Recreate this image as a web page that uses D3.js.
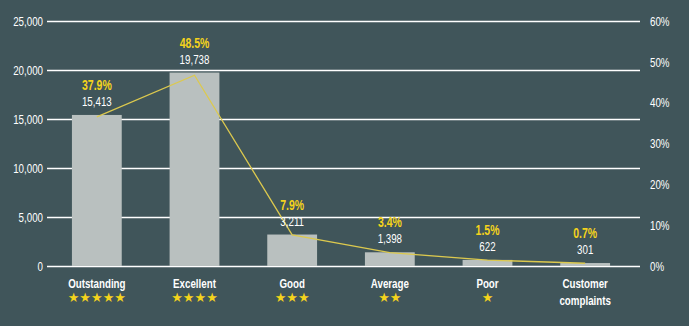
<!DOCTYPE html>
<html>
<head>
<meta charset="utf-8">
<script src="https://cdn.jsdelivr.net/npm/d3@7"></script>
<style>
  html, body { margin: 0; padding: 0; background: #40555a; }
  svg { display: block; }
  text { font-family: "Liberation Sans", Arial, sans-serif; }
</style>
</head>
<body>
<svg id="chart" width="689" height="326"></svg>
<script>
// ---- data ----
const categories = ["Outstanding", "Excellent", "Good", "Average", "Poor", "Customer complaints"];
const starCounts = [5, 4, 3, 2, 1, 0];
const counts = [15413, 19738, 3211, 1398, 622, 301];
const shares = [0.379, 0.485, 0.079, 0.034, 0.015, 0.007];
const leftTicks = [0, 5000, 10000, 15000, 20000, 25000];
const rightTicks = [0, 0.1, 0.2, 0.3, 0.4, 0.5, 0.6];

// ---- layout ----
const W = 689, H = 326;
const plotLeft = 47, plotRight = 640, plotTop = 21, plotBottom = 266;
const SX = 0.75; // horizontal squeeze to imitate a condensed face
const colors = { bg: "#40555a", bar: "#b9c0bf", grid: "#ffffff", text: "#ffffff", yellow: "#f4d31c", line: "#dcc94e" };

const svg = d3.select("#chart");
svg.append("rect").attr("width", W).attr("height", H).attr("fill", colors.bg);

const x = d3.scaleBand().domain(categories).range([48, 634]).paddingInner(0.49).paddingOuter(0.245);
const yL = d3.scaleLinear().domain([0, 25000]).range([plotBottom, plotTop]);
const yR = d3.scaleLinear().domain([0, 0.6]).range([plotBottom, plotTop]);
const yLine = d3.scaleLinear().domain([0, 0.623]).range([plotBottom, plotTop]);

function narrowTicks(g) {
  g.selectAll(".tick text").each(function () {
    const t = d3.select(this);
    const x0 = +t.attr("x") || 0;
    t.attr("x", x0 / SX).attr("transform", `scale(${SX},1)`);
  });
}
function addText(parent, px, py, str) {
  return parent.append("text")
    .attr("transform", `translate(${px},${py}) scale(${SX},1)`)
    .attr("text-anchor", "middle")
    .text(str);
}

// gridlines (left axis)
const leftAxis = d3.axisLeft(yL).tickValues(leftTicks).tickFormat(d3.format(",")).tickSize(-(plotRight - plotLeft)).tickPadding(4);
const gL = svg.append("g").attr("transform", `translate(${plotLeft},0)`).call(leftAxis);
gL.select(".domain").remove();
gL.selectAll(".tick line").attr("stroke", colors.grid).attr("stroke-width", 1.4);
gL.selectAll(".tick text").attr("fill", colors.text).attr("font-size", 13);
narrowTicks(gL);

// right axis labels
const rightAxis = d3.axisRight(yR).tickValues(rightTicks).tickFormat(d3.format(".0%")).tickSize(0).tickPadding(10);
const gR = svg.append("g").attr("transform", `translate(${plotRight},0)`).call(rightAxis);
gR.select(".domain").remove();
gR.selectAll(".tick text").attr("fill", colors.text).attr("font-size", 13);
narrowTicks(gR);

// bars
svg.append("g").selectAll("rect").data(categories).join("rect")
  .attr("x", d => x(d))
  .attr("width", x.bandwidth())
  .attr("y", (d, i) => yL(counts[i]))
  .attr("height", (d, i) => plotBottom - yL(counts[i]))
  .attr("fill", colors.bar);

// line
const line = d3.line()
  .x((d, i) => x(categories[i]) + x.bandwidth() / 2)
  .y(d => yLine(d));
svg.append("path").datum(shares).attr("d", line)
  .attr("fill", "none").attr("stroke", colors.line).attr("stroke-width", 1.3);

// value + share labels
const lab = svg.append("g");
categories.forEach((c, i) => {
  const cx = x(c) + x.bandwidth() / 2;
  const top = yL(counts[i]);
  addText(lab, cx, top - 9, d3.format(",")(counts[i]))
    .attr("fill", colors.text).attr("font-size", 13);
  addText(lab, cx, top - 25, d3.format(".1%")(shares[i]))
    .attr("fill", colors.yellow).attr("font-size", 14).attr("font-weight", "bold");
});

// category labels
const cat = svg.append("g");
categories.forEach((c, i) => {
  const cx = x(c) + x.bandwidth() / 2;
  const words = c === "Customer complaints" ? ["Customer", "complaints"] : [c];
  words.forEach((w, j) => {
    addText(cat, cx, 288 + j * 17, w)
      .attr("fill", colors.text).attr("font-size", 13).attr("font-weight", "bold");
  });
  if (starCounts[i] > 0) {
    cat.append("text").attr("x", cx).attr("y", 302)
      .attr("text-anchor", "middle").attr("fill", colors.yellow)
      .attr("font-size", 13).style("font-family", "DejaVu Sans")
      .text("★".repeat(starCounts[i]));
  }
});
</script>
</body>
</html>
